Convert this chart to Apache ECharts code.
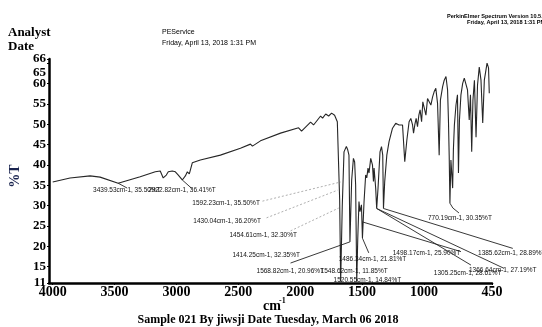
<!DOCTYPE html>
<html><head><meta charset="utf-8">
<script src="https://cdn.jsdelivr.net/npm/echarts@6/dist/echarts.min.js"></script>
<style>html,body{margin:0;padding:0;background:#fff}#c{width:542px;height:327px}</style>
</head><body><div id="c"></div>
<script>
// ---- data ----
const wavenumbers = [4000,3860,3698,3617,3471,3293,3171,3131,3107,3082,3066,3034,3009,2985,2953,2928,2912,2896,2872,2807,
 2645,2483,2402,2386,2321,2159,2013,1989,1916,1892,1835,1819,1794,1770,1746,1722,1700,1681,1673,1660,
 1646,1627,1616,1606,1598,1584,1570,1560,1552,1543,1535,1525,1517,1505,1497,1484,1471,1462,1452,1444,
 1430,1416,1408,1403,1390,1382,1371,1355,1343,1333,1327,1317,1300,1282,1254,1228,1214,1201,1187,1173,
 1155,1138,1120,1106,1092,1084,1074,1063,1052,1041,1031,1019,1009,998,984,971,958,944,930,917,
 904,890,877,867,849,836,822,809,802,796,790,782,768,762,754,741,729,721,713,701,
 687,674,660,648,634,624,614,604,592,579,567,553,539,525,512,490,478,472];
const transmittance = [35.8,36.8,37.3,37.0,35.5,37.1,38.3,38.5,36.8,37.5,38.3,38.5,38.3,37.5,36.3,37.3,38.3,37.8,40.5,41.2,
 42.4,44.1,45.1,44.6,45.9,47.8,49.1,48.3,50.5,49.8,52.0,51.5,52.5,52.0,52.7,52.2,50.6,31.4,11.3,30.0,
 43.2,44.5,43.7,42.4,21.1,36.3,41.6,40.7,35.1,11.3,21.6,31.0,28.5,30.2,22.0,31.0,37.5,36.8,39.2,38.0,
 41.6,40.0,35.9,39.2,34.3,29.3,34.3,43.2,44.5,42.4,29.3,35.9,42.4,45.7,49.0,50.2,50.6,49.8,50.2,49.8,
 40.8,46.1,50.6,51.4,49.8,47.8,49.8,51.4,49.4,52.2,53.5,50.6,55.5,55.9,52.2,56.3,56.7,54.7,56.7,58.0,
 58.8,55.1,42.4,55.9,59.2,60.8,61.7,58.4,51.0,42.4,30.6,41.2,34.3,43.7,49.8,54.7,57.2,38.0,51.0,57.2,
 60.0,61.3,61.6,58.4,51.0,57.2,43.2,55.9,60.8,46.8,59.6,64.0,60.8,50.3,60.8,65.0,63.8,57.6];
const xTicks = [4000,3500,3000,2500,2000,1500,1000,450];
const yTicks = [11,15,20,25,30,35,40,45,50,55,60,65,66];
const yLabelsMain = [11,15,20,25,30,35,40,45,50,55,60,66];
const yLabelsDropped = [65];   // printed just below its tick in the reference
// peak annotations (text as printed, and where the peak sits in the picture)
const peakTexts = ["3439.53cm-1, 35.50%T","2922.82cm-1, 36.41%T","1592.23cm-1, 35.50%T","1430.04cm-1, 36.20%T",
 "1454.61cm-1, 32.30%T","1414.25cm-1, 32.35%T","1568.82cm-1, 20.96%T","1548.62cm-1, 11.85%T","1520.55cm-1, 14.84%T",
 "1486.34cm-1, 21.81%T","1498.17cm-1, 25.90%T","1385.62cm-1, 28.89%T","1366.64cm-1, 27.19%T","1305.25cm-1, 28.61%T",
 "770.19cm-1, 30.35%T"];
const peakWn = [3471,2953,1673,1697,1689,1660,1598,1543,1673,1497,1497,1327,1382,1382,790];
const peakT  = [35.5,36.3,35.8,33.8,29.4,30.0,21.1,11.3,11.3,22.0,26.0,29.3,29.3,29.3,30.6];

// label placement (in data units) for the annotations
const notePlacement = [
 {text:[3674,33.8], line:[[3398,34.3]]},
 {text:[3228,33.8], line:[[2872,34.1]]},
 {text:[2872,30.6], line:[[2305,31.1],[1673,35.8]], dotted:true},
 {text:[2864,26.2], line:[[2272,27.0],[1697,33.8]], dotted:true},
 {text:[2572,22.8], line:[[2078,23.8],[1689,29.4]], dotted:true},
 {text:[2548,17.9]},
 {text:[2353,13.9], line:[[2078,15.9]]},
 {text:[1835,13.9]},
 {text:[1730,11.7]},
 {text:[1689,16.9], line:[[1446,18.4]]},
 {text:[1252,18.4], line:[[701,18.7]]},
 {text:[563,18.4], line:[[282,19.5]]},
 {text:[636,14.2], line:[[353,14.6]]},
 {text:[920,13.5], line:[[620,15.4]]},
 {text:[968,27.0], line:[[766,29.4],[717,28.2]]}
];

const spectrum = wavenumbers.map((w,i)=>[w, transmittance[i]]);
const serif = '"Liberation Serif","Times New Roman",serif';
const sans = '"Liberation Sans",Arial,sans-serif';
const yLabelStyle = {margin:3, color:'#000', fontFamily:serif, fontWeight:'bold', fontSize:13,
  hideOverlap:false, formatter:v => String(v)};

const chart = echarts.init(document.getElementById('c'), null, {renderer:'canvas'});
chart.setOption({
  animation:false,
  backgroundColor:'#fff',
  grid:{left:49, right:50, top:59, bottom:44, containLabel:false},
  xAxis:{type:'value', min:450, max:4030, inverse:true,
    axisLine:{show:true, lineStyle:{color:'#000', width:2.5}},
    axisTick:{show:true, length:2, customValues:xTicks, lineStyle:{color:'#000'}},
    axisLabel:{customValues:xTicks, margin:2, color:'#000', fontFamily:serif, fontWeight:'bold', fontSize:14,
      hideOverlap:false, showMinLabel:true, showMaxLabel:true, formatter:v => String(v)},
    splitLine:{show:false}},
  yAxis:[
    {type:'value', min:11, max:66, position:'left',
     axisLine:{show:true, onZero:false, lineStyle:{color:'#000', width:2.5}},
     axisTick:{show:true, length:2, customValues:yTicks, lineStyle:{color:'#000'}},
     axisLabel:Object.assign({customValues:yLabelsMain, showMinLabel:true, showMaxLabel:true}, yLabelStyle),
     splitLine:{show:false}},
    {type:'value', min:11, max:66, position:'left',
     axisLine:{show:false}, axisTick:{show:false},
     axisLabel:Object.assign({customValues:yLabelsDropped, verticalAlign:'top', padding:[3,0,0,0]}, yLabelStyle),
     splitLine:{show:false}}
  ],
  series:[
    {type:'line', data:spectrum, showSymbol:false, symbol:'none', smooth:false,
     lineStyle:{color:'#262626', width:1.1}, z:3},
    {type:'custom', clip:false, silent:true, z:4,
     data:peakWn.map((w,i)=>[w, peakT[i]]),
     renderItem:function(params, api){
       const i = params.dataIndex;
       const p = notePlacement[i];
       const children = [];
       if (p.line){
         const pts = (p.dotted ? p.line : [[peakWn[i], peakT[i]]].concat(p.line)).map(q=>api.coord(q));
         children.push({type:'polyline', shape:{points:pts},
           style:{stroke: p.dotted ? '#9a9a9a' : '#222', lineWidth: p.dotted?0.8:0.9, fill:null,
                  lineDash: p.dotted ? [2,2] : null}});
       }
       const t = api.coord(p.text);
       children.push({type:'text', x:t[0], y:t[1],
         style:{text:peakTexts[i], font:'6.5px '+sans, fill:'#111', textAlign:'left', textVerticalAlign:'middle'}});
       return {type:'group', children};
     }}
  ],
  graphic:[
    {type:'text', x:8, y:33, style:{text:'Analyst', font:'bold 13px '+serif, fill:'#000', textVerticalAlign:'middle'}},
    {type:'text', x:8, y:47, style:{text:'Date', font:'bold 13px '+serif, fill:'#000', textVerticalAlign:'middle'}},
    {type:'text', x:162, y:32, style:{text:'PEService', font:'7px '+sans, fill:'#000', textVerticalAlign:'middle'}},
    {type:'text', x:162, y:43, style:{text:'Friday, April 13, 2018 1:31 PM', font:'7px '+sans, fill:'#000', textVerticalAlign:'middle'}},
    {type:'text', x:447, y:16, style:{text:'PerkinElmer Spectrum Version 10.5.4', font:'bold 5.6px '+sans, fill:'#000', textVerticalAlign:'middle'}},
    {type:'text', x:467, y:22, style:{text:'Friday, April 13, 2018 1:31 PM', font:'bold 5.6px '+sans, fill:'#000', textVerticalAlign:'middle'}},
    {type:'text', x:15, y:176, rotation:Math.PI/2, style:{text:'%T', font:'bold 14px '+serif, fill:'#1b2550', textAlign:'center', textVerticalAlign:'middle'}},
    {type:'text', x:263, y:306, style:{text:'cm', font:'bold 14px '+serif, fill:'#000', textVerticalAlign:'middle'}},
    {type:'text', x:279, y:301, style:{text:'-1', font:'bold 8px '+serif, fill:'#000', textVerticalAlign:'middle'}},
    {type:'text', x:268, y:320, style:{text:'Sample 021 By jiwsji Date Tuesday, March 06 2018', font:'bold 12px '+serif, fill:'#000', textAlign:'center', textVerticalAlign:'middle'}}
  ]
});
</script></body></html>
